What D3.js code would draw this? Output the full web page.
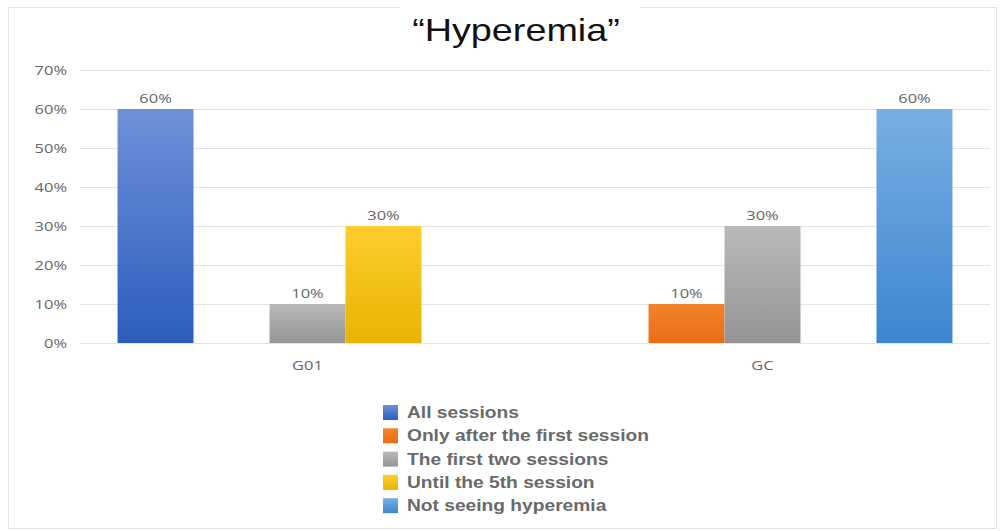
<!DOCTYPE html>
<html>
<head>
<meta charset="utf-8">
<script src="https://cdn.jsdelivr.net/npm/d3@7"></script>
<style>
  body { margin: 0; background: #fff; }
  text { font-family: "Liberation Sans", Arial, sans-serif; }
</style>
</head>
<body>
<div id="chart"></div>
<script>
var categories = ["G01", "GC"];
var seriesNames = ["All sessions", "Only after the first session", "The first two sessions", "Until the 5th session", "Not seeing hyperemia"];
var g01Values = [60, 0, 10, 30, 0];
var gcValues = [0, 10, 30, 0, 60];
var yTicks = [0, 10, 20, 30, 40, 50, 60, 70];

// top / bottom colours of each bar gradient
var colorTop = ["#6e92d8", "#f3832c", "#b9b9b9", "#ffcd2e", "#79aee3"];
var colorBottom = ["#2c5cbd", "#e86e16", "#959595", "#e8b302", "#3d86cf"];

var svgWidth = 1001;
var svgHeight = 531;
// the original picture is a bit stretched sideways, so the text is too
var sx = 1.22;

var svg = d3.select("#chart")
  .append("svg")
  .attr("width", svgWidth)
  .attr("height", svgHeight);

var defs = svg.append("defs");
seriesNames.forEach(function(name, i) {
  var grad = defs.append("linearGradient")
    .attr("id", "grad" + i)
    .attr("x1", 0).attr("y1", 0).attr("x2", 0).attr("y2", 1);
  grad.append("stop").attr("offset", "0%").attr("stop-color", colorTop[i]);
  grad.append("stop").attr("offset", "100%").attr("stop-color", colorBottom[i]);
});

// chart frame
svg.append("rect")
  .attr("x", 8.5).attr("y", 7.5)
  .attr("width", 988).attr("height", 521)
  .attr("fill", "none")
  .attr("stroke", "#e4e4e4");

var data = categories.map(function(c, ci) {
  var vals = ci === 0 ? g01Values : gcValues;
  return { cat: c, values: seriesNames.map(function(s, i) { return { series: i, value: vals[i] }; }) };
});

var x0 = d3.scaleBand()
  .domain(categories)
  .range([80, 990])
  .paddingInner(0.165)
  .paddingOuter(0.0825);

var x1 = d3.scaleBand()
  .domain(d3.range(seriesNames.length))
  .range([0, x0.bandwidth()]);

var y = d3.scaleLinear()
  .domain([0, 70])
  .range([343, 70]);

// gridlines
svg.append("g")
  .selectAll("line")
  .data(yTicks)
  .enter()
  .append("line")
  .attr("x1", 80)
  .attr("x2", 990)
  .attr("y1", d => y(d) + 0.5)
  .attr("y2", d => y(d) + 0.5)
  .attr("stroke", "#e3e3e3")
  .attr("stroke-width", 1.2);

// y axis labels
var leftAxis = d3.axisLeft(y)
  .tickValues(yTicks)
  .tickSize(0)
  .tickFormat(d => d + "%");

var yAxis = svg.append("g")
  .attr("transform", "translate(80, 0)")
  .call(leftAxis);
yAxis.select(".domain").remove();
yAxis.selectAll("text")
  .attr("x", -13 / sx)
  .attr("transform", `scale(${sx},1)`)
  .attr("font-size", "13.5px")
  .attr("fill", "#666")
  .style("font-family", "'Open Sans', sans-serif");

// category labels
var bottomAxis = d3.axisBottom(x0).tickSize(0).tickPadding(17);
var xAxis = svg.append("g")
  .attr("transform", "translate(0, 343)")
  .call(bottomAxis);
xAxis.select(".domain").remove();
xAxis.selectAll("text")
  .attr("transform", `scale(${sx},1)`)
  .attr("font-size", "13.5px")
  .attr("fill", "#666")
  .style("font-family", "'Open Sans', sans-serif");

// bars
var groups = svg.selectAll(".group")
  .data(data)
  .enter()
  .append("g")
  .attr("class", "group")
  .attr("transform", d => `translate(${x0(d.cat)}, 0)`);

groups.selectAll("rect")
  .data(d => d.values.filter(v => v.value > 0))
  .enter()
  .append("rect")
  .attr("x", d => x1(d.series))
  .attr("y", d => y(d.value))
  .attr("width", x1.bandwidth())
  .attr("height", d => y(0) - y(d.value))
  .attr("fill", d => `url(#grad${d.series})`);

groups.selectAll(".lbl")
  .data(d => d.values.filter(v => v.value > 0))
  .enter()
  .append("text")
  .attr("class", "lbl")
  .attr("transform", `scale(${sx},1)`)
  .attr("x", d => (x1(d.series) + x1.bandwidth() / 2) / sx)
  .attr("y", d => y(d.value) - 6)
  .attr("text-anchor", "middle")
  .attr("font-size", "13.5px")
  .attr("fill", "#666")
  .style("font-family", "'Open Sans', sans-serif")
  .text(d => d.value + "%");

// title
svg.append("rect")
  .attr("x", 400).attr("y", 0)
  .attr("width", 240).attr("height", 16)
  .attr("fill", "#fff");
svg.append("text")
  .attr("transform", `scale(1.18,1)`)
  .attr("x", 516 / 1.18)
  .attr("y", 41)
  .attr("text-anchor", "middle")
  .attr("font-size", "32px")
  .attr("fill", "#111")
  .text("\u201CHyperemia\u201D");

// legend
var legend = svg.selectAll(".legend")
  .data(seriesNames)
  .enter()
  .append("g")
  .attr("class", "legend")
  .attr("transform", (d, i) => `translate(383, ${412 + i * 23.3})`);

legend.append("rect")
  .attr("x", 0)
  .attr("y", -7)
  .attr("width", 15)
  .attr("height", 15)
  .attr("fill", (d, i) => `url(#grad${i})`);

legend.append("text")
  .attr("transform", `scale(1.2,1)`)
  .attr("x", 24 / 1.2)
  .attr("y", 6)
  .attr("font-size", "16px")
  .attr("font-weight", "bold")
  .attr("fill", "#6a6a6a")
  .text(d => d);
</script>
</body>
</html>
